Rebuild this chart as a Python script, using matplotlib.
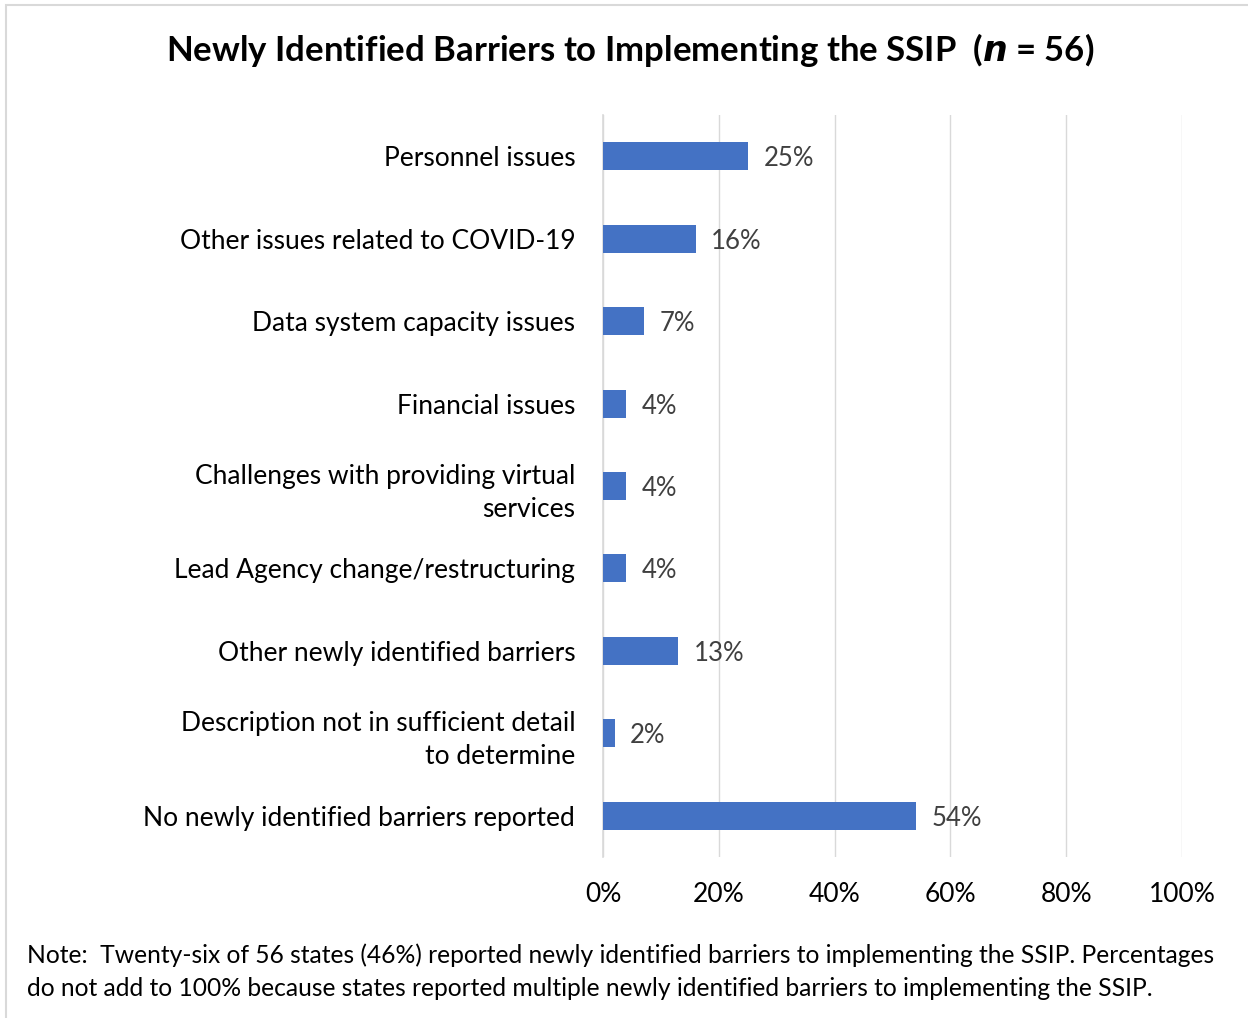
import matplotlib.pyplot as plt
import matplotlib.patches as patches
import numpy as np

categories = ["Personnel issues",
              "Other issues related to COVID-19",
              "Data system capacity issues",
              "Financial issues",
              "Challenges with providing virtual\nservices",
              "Lead Agency change/restructuring",
              "Other newly identified barriers",
              "Description not in sufficient detail\nto determine",
              "No newly identified barriers reported"]
values = [25, 16, 7, 4, 4, 4, 13, 2, 54]
xticks = [0, 20, 40, 60, 80, 100]

plt.rcParams['font.family'] = ['Lato', 'DejaVu Sans']

W, H = 1248, 1018
fig = plt.figure(figsize=(W / 100, H / 100), dpi=100)
# axes from px 603..1182 horizontally, 115..857 vertically
ax = fig.add_axes([603 / W, 1 - 857 / H, (1182 - 603) / W, (857 - 115) / H])

y = np.arange(len(categories))
ax.barh(y, values, height=0.34, color="#4472C4", zorder=3)
for yi, v in zip(y, values):
    ax.text(v + 2.7, yi + 0.03, f"{v}%", va="center", ha="left", fontsize=18.5, color="#404040")

ax.set_xlim(0, 100)
ax.set_ylim(len(categories) - 0.5, -0.5)
ax.set_yticks(y)
ax.set_yticklabels(categories, fontsize=19, ha="right", linespacing=1.4)
ax.set_xticks(xticks)
ax.set_xticklabels([f"{t}%" for t in xticks], fontsize=19)
ax.tick_params(axis="y", length=0, pad=20)
ax.tick_params(axis="x", length=0, pad=18)
ax.grid(axis="x", color="#D9D9D9", linewidth=1, zorder=0)
for s in ["top", "right", "bottom"]:
    ax.spines[s].set_visible(False)
ax.spines["left"].set_color("#D9D9D9")
ax.spines["left"].set_linewidth(1.2)

fig.text(630 / W, 1 - 50 / H, "Newly Identified Barriers to Implementing the SSIP  ($\\mathbfit{n}$ = 56)",
         ha="center", va="center", fontsize=25, fontweight="bold")

fig.text(27 / W, 1 - 955 / H,
         "Note:  Twenty-six of 56 states (46%) reported newly identified barriers to implementing the SSIP. Percentages",
         ha="left", va="center", fontsize=17.7)
fig.text(27 / W, 1 - 988 / H,
         "do not add to 100% because states reported multiple newly identified barriers to implementing the SSIP.",
         ha="left", va="center", fontsize=17.7)

# chart border (left + top visible)
fig.add_artist(patches.Rectangle((6 / W, -0.1), 1.2, 1 - 5 / H + 0.1, transform=fig.transFigure,
                                 fill=False, edgecolor="#D9D9D9", linewidth=1.5))

fig.savefig("out.png", dpi=100)
